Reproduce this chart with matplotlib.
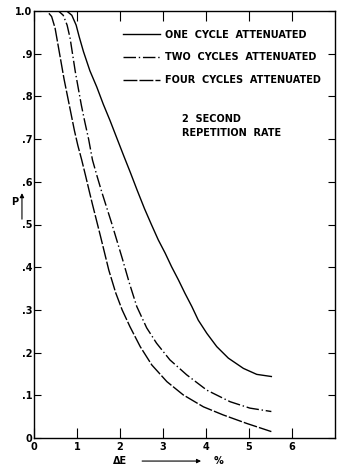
import matplotlib
matplotlib.use('Agg')
import matplotlib.pyplot as plt

# 数据
one_x = [0, 0.76, 0.88, 0.98, 1.05, 1.15, 1.3, 1.46, 1.61, 1.77, 1.92, 2.09, 2.24, 2.4, 2.57, 2.73, 2.89,
         3.05, 3.2, 3.36, 3.51, 3.67, 3.82, 4.02, 4.25, 4.52, 4.87, 5.18, 5.52]
one_y = [1.0, 1.0, 0.99, 0.967, 0.94, 0.905, 0.86, 0.822, 0.782, 0.743, 0.704, 0.66, 0.622, 0.58, 0.537, 0.5, 0.464,
         0.433, 0.401, 0.37, 0.339, 0.308, 0.276, 0.245, 0.214, 0.187, 0.163, 0.149, 0.144]

two_x = [0, 0.57, 0.68, 0.77, 0.84, 0.9, 0.96, 1.03, 1.1, 1.18, 1.27, 1.36, 1.47, 1.57, 1.68, 1.8, 1.92, 2.06,
         2.22, 2.39, 2.62, 2.85, 3.16, 3.55, 4.02, 4.56, 5.02, 5.52]
two_y = [1.0, 1.0, 0.99, 0.967, 0.936, 0.897, 0.858, 0.819, 0.78, 0.741, 0.70, 0.651, 0.612, 0.578, 0.543, 0.505, 0.465, 0.418,
         0.362, 0.308, 0.258, 0.222, 0.183, 0.148, 0.112, 0.085, 0.07, 0.062]

four_x = [0, 0.3, 0.41, 0.49, 0.56, 0.63, 0.7, 0.78, 0.86, 0.94, 1.02, 1.11, 1.2, 1.29, 1.36, 1.55, 1.74, 1.9,
          2.05, 2.23, 2.47, 2.74, 3.09, 3.47, 3.94, 4.4, 4.95, 5.52]
four_y = [1.0, 1.0, 0.987, 0.96, 0.92, 0.88, 0.84, 0.80, 0.76, 0.72, 0.685, 0.651, 0.614, 0.576, 0.547, 0.471, 0.393, 0.34,
          0.30, 0.261, 0.214, 0.171, 0.132, 0.101, 0.073, 0.054, 0.034, 0.015]

labels = ['ONE  CYCLE  ATTENUATED', 'TWO  CYCLES  ATTENUATED', 'FOUR  CYCLES  ATTENUATED']
x_ticks = [0, 1, 2, 3, 4, 5, 6]
y_ticks = [0, 0.1, 0.2, 0.3, 0.4, 0.5, 0.6, 0.7, 0.8, 0.9, 1.0]
y_ticklabels = ['0', '.1', '.2', '.3', '.4', '.5', '.6', '.7', '.8', '.9', '1.0']

plt.rcParams['font.family'] = ['DejaVu Sans']
fs = 7

fig = plt.figure(figsize=(3.37, 4.68), dpi=100)
ax = fig.add_axes([34 / 337, 1 - 438 / 468, 301 / 337, 427 / 468])

lw = 1.0
ax.plot(one_x, one_y, color='black', lw=lw, label=labels[0])
ax.plot(two_x, two_y, color='black', lw=lw, dashes=(9, 2, 1, 2), label=labels[1])
ax.plot(four_x, four_y, color='black', lw=lw, dashes=(10, 1.5), label=labels[2])

ax.set_xlim(0, 7.0)
ax.set_ylim(0, 1.0)

ax.set_xticks(x_ticks)
ax.set_xticklabels([str(t) for t in x_ticks], fontsize=fs, fontweight='bold')
ax.set_yticks(y_ticks)
ax.set_yticklabels(y_ticklabels, fontsize=fs, fontweight='bold')
ax.tick_params(axis='both', direction='in', top=True, right=True, width=0.8)
ax.tick_params(axis='x', length=7, pad=3)
ax.tick_params(axis='y', length=5, pad=1)
for s in ax.spines.values():
    s.set_linewidth(1.0)

leg = ax.legend(loc='upper left', bbox_to_anchor=(0.296, 0.956), frameon=False,
                fontsize=fs, handlelength=3.8, handletextpad=0.5, labelspacing=1.3,
                borderpad=0, borderaxespad=0)
for t in leg.get_texts():
    t.set_fontweight('bold')

ax.text(3.44, 0.759, '2  SECOND\nREPETITION  RATE', fontsize=fs, fontweight='bold',
        va='top', ha='left', linespacing=1.5)

# x 轴说明
xt = ax.get_xaxis_transform()
ax.text(2.0, -0.054, r'ΔE', transform=xt, fontsize=fs, fontweight='bold', ha='center', va='center')
ax.annotate('', xy=(3.95, -0.054), xytext=(2.45, -0.054), xycoords=xt, textcoords=xt,
            arrowprops=dict(arrowstyle='-|>', color='black', lw=0.8, mutation_scale=6),
            annotation_clip=False)
ax.text(4.3, -0.054, '%', transform=xt, fontsize=fs, fontweight='bold', ha='center', va='center')

# y 轴说明
yt = ax.get_yaxis_transform()
ax.text(-0.063, 0.553, 'P', transform=yt, fontsize=fs, fontweight='bold', ha='center', va='center')
ax.annotate('', xy=(-0.04, 0.58), xytext=(-0.04, 0.506), xycoords=yt, textcoords=yt,
            arrowprops=dict(arrowstyle='-|>', color='black', lw=0.8, mutation_scale=6),
            annotation_clip=False)

fig.savefig('out.png', dpi=100)
